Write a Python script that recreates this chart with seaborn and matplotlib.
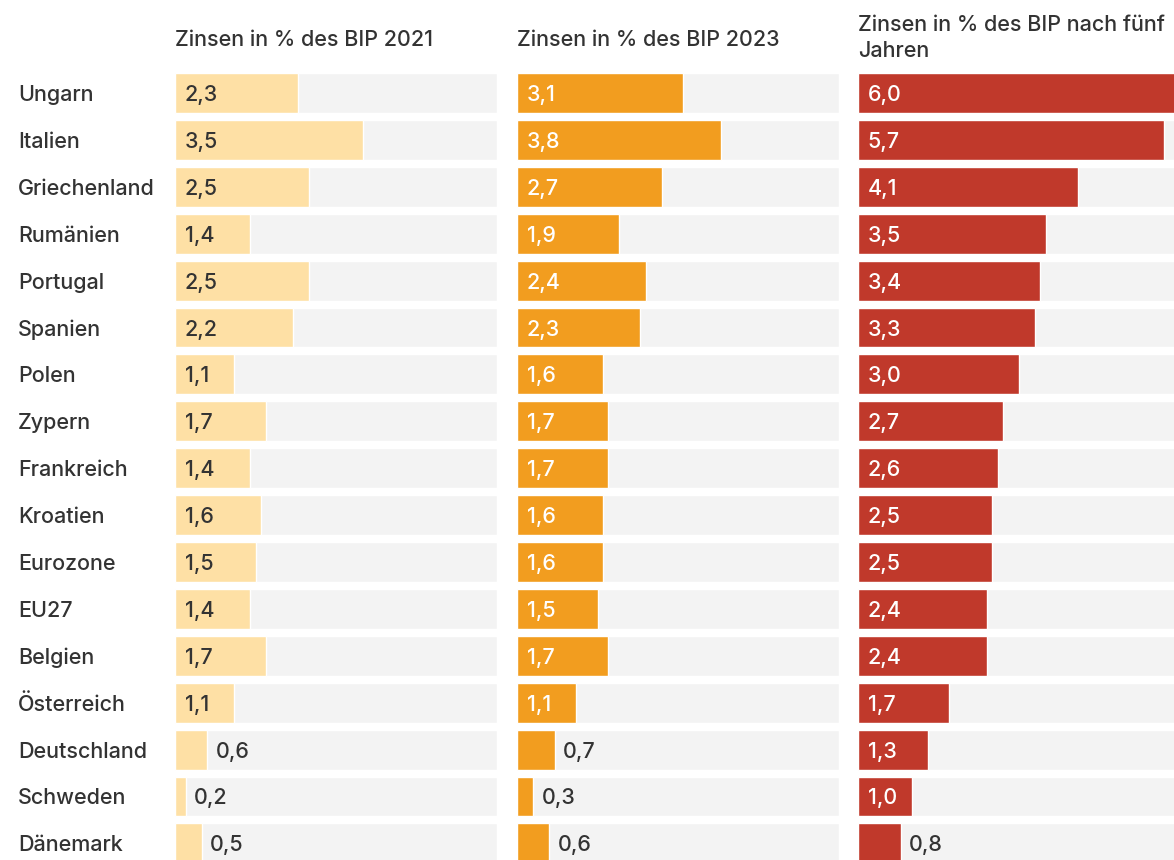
import matplotlib
matplotlib.use("Agg")
import matplotlib.pyplot as plt
import matplotlib.transforms as mtransforms
import seaborn as sns
import pandas as pd

# Interest payments as share of GDP, by country
countries = ["Ungarn", "Italien", "Griechenland", "Rumänien", "Portugal", "Spanien",
             "Polen", "Zypern", "Frankreich", "Kroatien", "Eurozone", "EU27",
             "Belgien", "Österreich", "Deutschland", "Schweden", "Dänemark"]
zinsen_2021 = [2.3, 3.5, 2.5, 1.4, 2.5, 2.2, 1.1, 1.7, 1.4, 1.6, 1.5, 1.4, 1.7, 1.1, 0.6, 0.2, 0.5]
zinsen_2023 = [3.1, 3.8, 2.7, 1.9, 2.4, 2.3, 1.6, 1.7, 1.7, 1.6, 1.6, 1.5, 1.7, 1.1, 0.7, 0.3, 0.6]
zinsen_5j = [6.0, 5.7, 4.1, 3.5, 3.4, 3.3, 3.0, 2.7, 2.6, 2.5, 2.5, 2.4, 2.4, 1.7, 1.3, 1.0, 0.8]

titles = ["Zinsen in % des BIP 2021",
          "Zinsen in % des BIP 2023",
          "Zinsen in % des BIP nach fünf\nJahren"]
track_max = 6.0

sns.set_theme(style="white")
plt.rcParams["font.family"] = ["Inter", "DejaVu Sans"]

W, H = 1174, 860
fig = plt.figure(figsize=(W / 100, H / 100), dpi=100)
fig.patch.set_facecolor("white")

text_dark = "#333333"
track_color = "#f3f3f3"
panels = [
    (zinsen_2021, "#fee0a5", text_dark, 175),
    (zinsen_2023, "#f29d1f", "white", 517),
    (zinsen_5j, "#c0392b", "white", 858),
]

pitch = 46.9
first_center = 93
ax_top = first_center - pitch / 2
ax_h = pitch * len(countries)
ax_w = 322

fs = 15.5
fw = "medium"
axes = []
for i, (vals, color, inner_col, left) in enumerate(panels):
    ax = fig.add_axes([left / W, (H - ax_top - ax_h) / H, ax_w / W, ax_h / H])
    df = pd.DataFrame({"Land": countries, "Wert": vals, "Track": [track_max] * len(countries)})
    sns.barplot(data=df, x="Track", y="Land", color=track_color, width=0.85,
                saturation=1, ax=ax, orient="h")
    sns.barplot(data=df, x="Wert", y="Land", color=color, width=0.85,
                saturation=1, ax=ax, orient="h")
    ax.set_xlim(0, track_max)
    ax.set_ylim(len(countries) - 0.5, -0.5)
    ax.set_xlabel("")
    ax.set_ylabel("")
    ax.set_xticks([])
    ax.set_yticks([])
    for s in ax.spines.values():
        s.set_visible(False)
    ax.set_facecolor("none")

    for j, v in enumerate(vals):
        label = f"{v:.1f}".replace(".", ",")
        if v >= 1.0:
            ax.annotate(label, xy=(0, j), xytext=(7, 0), textcoords="offset points",
                        ha="left", va="center_baseline", fontsize=fs, fontweight=fw,
                        color=inner_col)
        else:
            ax.annotate(label, xy=(v, j), xytext=(6, 0), textcoords="offset points",
                        ha="left", va="center_baseline", fontsize=fs, fontweight=fw,
                        color=text_dark)

    # the last title wraps; its baseline anchor is the second line
    fig.text(left / W, 1 - (46 if i < 2 else 57) / H, titles[i], ha="left",
             va="baseline", fontsize=fs, fontweight=fw, color=text_dark,
             linespacing=1.35)
    axes.append(ax)

# Country names along the left edge
trans = mtransforms.blended_transform_factory(fig.transFigure, axes[0].transData)
for j, name in enumerate(countries):
    axes[0].text(18 / W, j, name, transform=trans, ha="left", va="center_baseline",
                 fontsize=fs, fontweight=fw, color=text_dark, clip_on=False)

fig.savefig("out.png", dpi=100, facecolor="white")
